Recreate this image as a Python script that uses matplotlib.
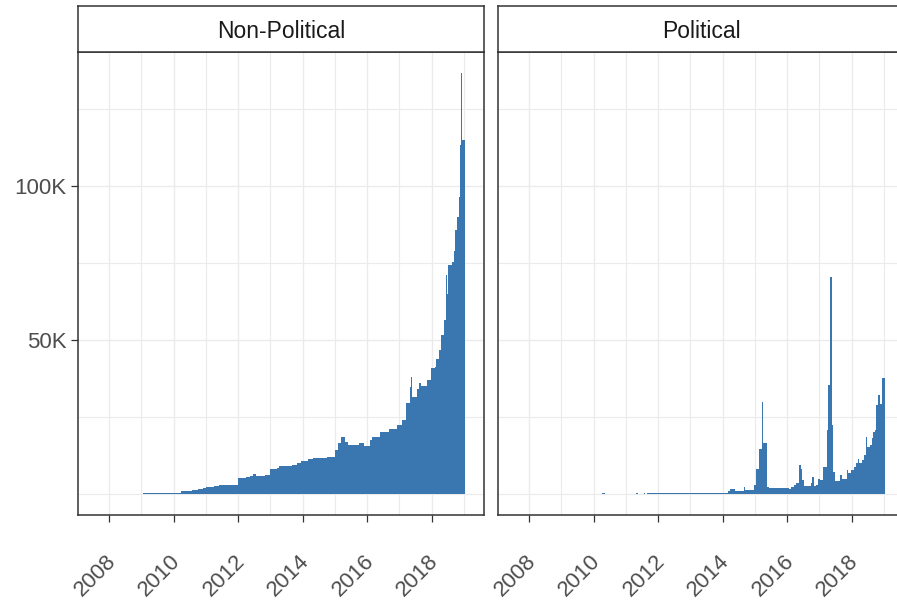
import pandas as pd
import matplotlib.pyplot as plt
import matplotlib.dates as mdates
from matplotlib.ticker import FuncFormatter
from matplotlib.transforms import ScaledTranslation

plt.rcParams['font.family'] = ['Liberation Sans', 'DejaVu Sans']

# === DATA (counts in thousands, each value holds from its start date to the next) ===
nonpol_starts = [
    '2009-01-22', '2009-06-01', '2009-11-01', '2010-04-01', '2010-06-01', '2010-08-01',
    '2010-10-01', '2010-12-01', '2011-01-01', '2011-04-01', '2011-06-01', '2011-08-01',
    '2011-10-01', '2012-01-01', '2012-04-01', '2012-05-15', '2012-06-15', '2012-07-20',
    '2012-11-01', '2013-01-01', '2013-03-15', '2013-04-15', '2013-09-01', '2013-11-01',
    '2013-12-15', '2014-03-01', '2014-05-01', '2014-10-01', '2015-01-01', '2015-02-01',
    '2015-03-15', '2015-05-01', '2015-06-01', '2015-10-01', '2015-12-01', '2016-02-01',
    '2016-03-01', '2016-05-22', '2016-05-30', '2016-09-01', '2016-12-01', '2017-02-01',
    '2017-03-20', '2017-05-01', '2017-05-12', '2017-05-22', '2017-07-20', '2017-08-15',
    '2017-09-05', '2017-11-15', '2017-12-28', '2018-02-05', '2018-02-22', '2018-03-28',
    '2018-04-20', '2018-05-20', '2018-06-10', '2018-06-20', '2018-07-10', '2018-08-20',
    '2018-09-08', '2018-09-28', '2018-10-15', '2018-11-03', '2018-11-22', '2018-12-03',
    '2018-12-10',
]
nonpol_k = [
    0.3, 0.4, 0.5, 1.0, 1.1, 1.3,
    1.5, 1.9, 2.2, 2.5, 2.8, 3.0,
    3.1, 5.1, 5.4, 5.8, 6.5, 5.8,
    6.2, 8.0, 8.5, 9.1, 9.5, 10.0,
    10.8, 11.3, 11.6, 12.0, 14.3, 16.5,
    18.6, 17.0, 15.9, 16.6, 15.6, 17.5,
    18.6, 25.6, 20.2, 21.0, 22.5, 24.0,
    29.4, 34.8, 38.0, 31.5, 34.0, 36.0,
    35.0, 37.0, 40.8, 41.3, 44.0, 46.8,
    51.6, 56.5, 71.0, 65.0, 74.4, 75.4,
    79.0, 85.7, 90.0, 96.5, 113.3, 136.6,
    115.0,
]
nonpol_end = '2019-01-14'

pol_starts = [
    '2010-04-10', '2010-05-10', '2011-04-22', '2011-05-22', '2011-07-25', '2011-08-05',
    '2011-08-30', '2014-03-01', '2014-03-30', '2014-05-25', '2014-09-01', '2014-09-15',
    '2014-12-25', '2015-01-20', '2015-02-20', '2015-03-22', '2015-04-05', '2015-05-18',
    '2015-06-10', '2016-01-20', '2016-02-20', '2016-03-25', '2016-04-15', '2016-05-20',
    '2016-06-03', '2016-06-20', '2016-07-10', '2016-09-25', '2016-10-15', '2016-11-01',
    '2016-11-20', '2016-12-20', '2017-01-10', '2017-02-17', '2017-03-25', '2017-04-13',
    '2017-05-01', '2017-05-20', '2017-06-05', '2017-06-25', '2017-08-25', '2017-09-10',
    '2017-11-10', '2017-11-25', '2017-12-25', '2018-01-25', '2018-02-25', '2018-03-20',
    '2018-04-01', '2018-04-25', '2018-05-20', '2018-06-10', '2018-06-25', '2018-07-25',
    '2018-08-15', '2018-08-30', '2018-09-20', '2018-10-05', '2018-10-25', '2018-11-20',
    '2018-12-10',
]
pol_k = [
    0.3, 0.0, 0.3, 0.0, 0.3, 0.0,
    0.3, 1.1, 1.5, 1.1, 2.2, 1.3,
    3.0, 8.0, 14.5, 30.0, 16.7, 2.2,
    1.9, 1.5, 2.2, 3.0, 3.5, 9.4,
    8.1, 4.5, 2.6, 3.5, 5.6, 2.6,
    3.0, 5.0, 4.5, 8.9, 20.8, 35.4,
    70.6, 22.4, 7.3, 4.3, 6.3, 5.0,
    7.8, 6.7, 7.8, 8.9, 10.0, 11.3,
    10.0, 11.0, 12.8, 18.6, 15.4, 16.0,
    18.1, 20.0, 20.8, 28.9, 32.1, 29.2,
    37.6,
]
pol_end = '2019-01-10'

panels = [
    ('Non-Political', nonpol_starts, nonpol_k, nonpol_end),
    ('Political', pol_starts, pol_k, pol_end),
]

# === LAYOUT (pixels of a 897x601 canvas) ===
W, H = 897, 601
fig = plt.figure(figsize=(W / 100, H / 100), dpi=100)

bar_color = '#3A76AF'
border = '#333333'
grid_c = '#EBEBEB'
x_lo = mdates.date2num(pd.Timestamp('2007-01-15'))
x_hi = mdates.date2num(pd.Timestamp('2019-08-18'))

for i, (title, starts, vals, end) in enumerate(panels):
    left_px = 78 + i * 420
    ax = fig.add_axes([left_px / W, 86 / H, 406 / W, 463 / H])
    edges = mdates.date2num(pd.to_datetime(starts + [end]))
    ax.stairs(vals, edges, baseline=0, fill=True, color=bar_color, linewidth=0)

    ax.xaxis_date()
    ax.set_xlim(x_lo, x_hi)
    ax.set_ylim(-6.8, 143.5)
    ax.xaxis.set_major_locator(mdates.YearLocator(2))
    ax.xaxis.set_minor_locator(mdates.YearLocator(1))
    ax.xaxis.set_major_formatter(mdates.DateFormatter('%Y'))
    ax.set_yticks([50, 100])
    ax.set_yticks([0, 25, 75, 125], minor=True)
    ax.yaxis.set_major_formatter(FuncFormatter(lambda v, p: f'{v:.0f}K'))

    ax.set_axisbelow(True)
    ax.grid(which='major', color=grid_c, linewidth=1.0)
    ax.grid(which='minor', color=grid_c, linewidth=0.8)
    for s in ax.spines.values():
        s.set_color(border)
        s.set_linewidth(1.1)
    ax.tick_params(which='major', length=5, width=0.9, color=border,
                   labelcolor='#4D4D4D', labelsize=16)
    ax.tick_params(which='minor', length=0)
    ax.tick_params(axis='y', pad=3.5)
    ax.tick_params(axis='x', pad=26)
    if i == 1:
        ax.tick_params(axis='y', left=False, labelleft=False)

    off = ScaledTranslation(4 / 100, 0, fig.dpi_scale_trans)
    for lab in ax.get_xticklabels():
        lab.set_rotation(45)
        lab.set_ha('right')
        lab.set_va('center')
        lab.set_rotation_mode('anchor')
        lab.set_transform(lab.get_transform() + off)

    # facet strip
    sax = fig.add_axes([left_px / W, 549 / H, 406 / W, 46 / H])
    sax.set_xticks([])
    sax.set_yticks([])
    sax.set_facecolor('white')
    for s in sax.spines.values():
        s.set_color(border)
        s.set_linewidth(1.1)
    sax.text(0.5, 0.44, title, ha='center', va='center', fontsize=16.5,
             color='#1A1A1A', transform=sax.transAxes)

fig.savefig('out.png', dpi=100, facecolor='white')
